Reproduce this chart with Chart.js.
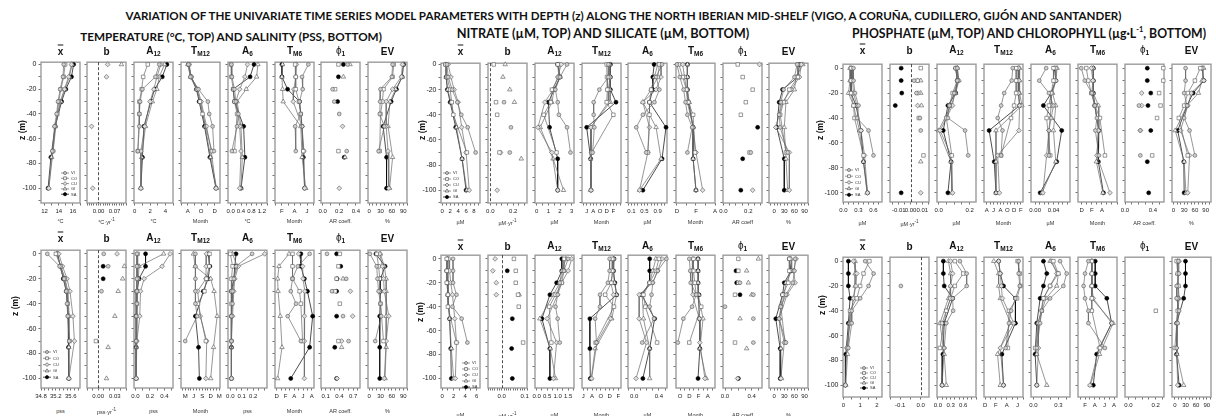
<!DOCTYPE html>
<html>
<head>
<meta charset="utf-8">
<script src="https://cdn.jsdelivr.net/npm/chart.js@4.4.1/dist/chart.umd.min.js"></script>
<style>
body { margin: 0; width: 1216px; height: 416px; overflow: hidden; background: #fff; position: relative; font-family: "Liberation Sans", Arial, sans-serif; color: #111; }
.t { position: absolute; white-space: nowrap; transform: translate(-50%, -50%); }
.ttl { font-family: Lato, "Open Sans", sans-serif; font-weight: bold; font-size: 12px; }
.hd { font-weight: bold; font-size: 10px; }
.hd sub { font-size: 6.5px; vertical-align: -2px; }
.hd .ov { text-decoration: overline; }
.hd .phi { font-weight: normal; }
.unit { font-size: 5.5px; color: #333; }
.zl { font-weight: bold; font-size: 8.5px; transform: translate(-50%, -50%) rotate(-90deg); }
canvas { position: absolute; }
</style>
</head>
<body>
<script>
// stations and sampled depths (m)
const stations = ['VI', 'CO', 'CU', 'GI', 'SA'];
const depths = {
  VI: [0, -10, -20, -30, -40, -50, -70],
  CO: [0, -10, -20, -30, -40, -70],
  CU: [0, -10, -20, -30, -50, -70, -100],
  GI: [0, -10, -20, -30, -50, -75, -100],
  SA: [0, -10, -20, -30, -50, -75, -100]
};

// ---- temperature (top left)
const tempMean = { VI: [14.7, 14.6, 14.2, 13.9, 13.7, 13.4, 13.1], CO: [14.9, 14.7, 14.3, 14.0, 13.8, 13.2], CU: [15.8, 15.4, 14.8, 14.2, 13.5, 13.2, 12.6], GI: [15.9, 15.5, 14.9, 14.3, 13.5, 13.0, 12.6], SA: [16.1, 15.8, 15.0, 14.4, 13.5, 12.9, 12.5] };
const tempB = { CU: [0.04, 0.035, null, null, -0.03, null, -0.025], GI: [0.10] };
const tempA12 = { VI: [3.2, 2.7, 1.0, 0.7, 0.6, 0.6, 0.4], CO: [1.7, 1.1, 0.9, 0.6, 0.6, 0.4], CU: [3.4, 2.9, 2.5, 2.0, 1.3, 0.8, 0.8], GI: [3.9, 3.2, 2.9, 2.3, 1.4, 0.9, 0.8], SA: [4.2, 3.6, 2.6, 2.1, 1.2, 1.0, 0.8] };
const tempTM12 = { VI: [8.1, 8.4, 9.6, 11.0, 11.2, 11.7, 11.9], CO: [8.2, 8.5, 9.4, 9.8, 10.2, 11.6], CU: [8.2, 8.5, 9.5, 10.0, 10.8, 11.5, 12.2], GI: [8.0, 8.4, 9.3, 9.9, 10.6, 11.4, 12.3], SA: [8.1, 8.5, 9.3, 9.7, 10.5, 11.3, 12.2] };
const tempA6 = { VI: [0.03, 0.05, 0.15, 0.2, 0.3, 0.25, 0.05], CO: [0.02, 0.03, 0.1, 0.15, 0.25, 0.15], CU: [0.65, 0.55, 0.35, 0.2, 0.35, 0.4, 0.35], GI: [1.05, 1.0, 0.6, 0.25, 0.4, 0.45, 0.4], SA: [0.9, 0.75, 0.1, 0.15, 0.5, 0.55, 0.4] };
const tempTM6 = { VI: [6.2, 5.2, 5.3, 4.8, 5.0, 4.1, 4.2], CO: [4.1, 4.2, 4.2, 4.7, 5.0, 5.4], CU: [4.3, 4.2, 3.9, 3.8, 5.2, 5.5, 5.6], GI: [2.1, 2.0, 2.1, 2.2, 5.0, 5.2, 5.8], SA: [2.0, 2.0, 2.9, 4.8, 5.2, 5.4, 5.6] };
const tempPhi = { VI: [0.3, null, 0.12, 0.14, 0.2, null, 0.29], CO: [0.19, null, 0.15, null, null, 0.19], CU: [null, null, null, null, 0.24, null, 0.2], GI: [0.33, 0.25, null, null, null, 0.27, null], SA: [0.25, 0.19, null, 0.18, null, 0.26, null] };
const tempEV = { VI: [62, 60, 30, 29, 28, 40, 25], CO: [65, 62, 38, 35, 30, 28], CU: [88, 85, 62, 45, 45, 50, 52], GI: [90, 88, 70, 55, 50, 62, 54], SA: [91, 87, 72, 58, 37, 46, 46] };

// ---- salinity (bottom left)
const salMean = { VI: [34.97, 35.3, 35.42, 35.48, 35.5, 35.52, 35.56], CO: [35.2, 35.33, 35.44, 35.5, 35.52, 35.57], CU: [35.28, 35.38, 35.5, 35.58, 35.66, 35.7, 35.55], GI: [35.22, 35.33, 35.45, 35.52, 35.56, 35.55, 35.55], SA: [35.25, 35.32, 35.4, 35.48, 35.53, 35.54, 35.55] };
const salB = { VI: [0.01, 0.018, null, 0.006], CO: [null, null, null, null, null, -0.004], CU: [0.034], GI: [null, 0.047, 0.044, 0.036, 0.03, 0.018, 0.015], SA: [null, 0.009, 0.009] };
const salA12 = { VI: [0.02, 0.02, 0.02, 0.02, 0.02, 0.01, 0.01], CO: [0.03, 0.03, 0.03, 0.02, 0.02, 0.01], CU: [0.48, 0.37, 0.12, 0.07, 0.06, 0.02, 0.01], GI: [0.39, 0.05, 0.04, 0.03, 0.02, 0.01, 0.01], SA: [0.14, 0.14, 0.05, 0.02, 0.01, 0.01, 0.01] };
const salTM12 = { VI: [6.6, 6.6, 6.6, 6.6, 6.6, 7.2, 3.0], CO: [11.6, 11.5, 10.5, 9.8, 7.5, 10.3], CU: [10.5, 10.4, 10.3, 7.4, 8.3, 10.6, 10.3], GI: [5.9, 6.5, 12.0, 13.2, 14.3, 13.0, 12.0], SA: [11.1, 11.7, 11.1, 9.4, 6.6, 7.7, 8.0] };
const salA6 = { VI: [0.19, 0.05, 0.03, 0.02, 0.02, 0.01, 0.01], CO: [0.0, 0.02, 0.01, 0.01, 0.01, 0.01], CU: [0.3, 0.07, 0.04, 0.03, 0.02, 0.01, 0.01], GI: [0.02, 0.06, 0.03, 0.02, 0.01, 0.01, 0.01], SA: [0.05, 0.04, 0.03, 0.01, 0.01, 0.01, 0.01] };
const salTM6 = { VI: [7.5, 4.8, 3.6, 3.2, 4.4, 2.5, 5.5], CO: [3.6, 3.6, 3.6, 5.2, 5.5, 5.9], CU: [5.0, 5.9, 6.0, 6.4, 6.3, 6.3, 6.3], GI: [2.8, 0.5, 0.2, 0.3, 0.8, 1.2, 0.2], SA: [5.5, 5.5, 6.3, 7.0, 8.2, 7.5, 3.2] };
const salPhi = { VI: [0.13, null, 0.55, 0.24, null, 0.48, 0.6], CO: [0.41, 0.38, 0.34, 0.31, 0.41, 0.38], CU: [null, null, null, 0.64, 0.69, 0.45, 0.35], GI: [null, null, 0.48, null, null, 0.45, null], SA: [0.34, 0.43, 0.35, 0.34, 0.34, 0.3, 0.34] };
const salEV = { VI: [2, 20, 22, 25, 30, 32, 16], CO: [20, 25, 28, 28, 30, 38], CU: [28, 35, 38, 40, 52, 45, 40], GI: [30, 40, 45, 45, 45, 45, 42], SA: [18, 42, 30, 30, 28, 28, 28] };

// ---- nitrate (top middle)
const nitMean = { VI: [1.2, 1.5, 2.5, 3.8, 4.8, 6.4, 8.4], CO: [0.8, 1.2, 2.0, 2.4, 2.8, 6.2], CU: [1.5, 2.2, 3.0, 4.0, 4.9, 6.0, 6.8], GI: [1.0, 1.0, 1.4, 2.2, 3.6, 5.0, 6.2], SA: [0.9, 1.0, 1.3, 2.0, 3.4, 5.0, 6.0] };
const nitB = { VI: [null, null, null, 0.12, null, 0.18, 0.17], CO: [0.03, null, null, 0.05, 0.06, 0.08], CU: [null, null, null, null, null, 0.09, 0.06], GI: [0.13, 0.11, 0.17, 0.21, null, 0.27, null] };
const nitA12 = { VI: [2.6, 2.0, 1.6, 1.8, 1.9, 2.6, 2.9], CO: [1.8, 1.9, 1.3, 1.2, 0.6, 1.7], CU: [2.1, 1.8, 1.4, 0.7, 0.1, 1.3, 1.8], GI: [1.9, 2.0, 1.5, 1.3, 0.3, 1.4, 2.3], SA: [1.8, 2.0, 1.5, 1.0, 1.1, 1.8, 1.8] };
const nitTM12 = { VI: [12.5, 12.5, 9.8, 8.1, 8.1, 8.3, 7.8], CO: [12.0, 12.1, 12.2, 12.0, 14.0, 7.5], CU: [12.7, 13.0, 12.5, 12.5, 7.3, 7.5, 7.3], GI: [13.0, 13.0, 13.0, 13.1, 7.2, 7.2, 7.2], SA: [13.1, 13.1, 13.1, 14.8, 6.0, 7.2, 7.3] };
const nitA6 = { VI: [1.03, 0.85, 0.95, 0.8, 0.45, 0.25, 0.55], CO: [0.95, 0.9, 0.7, 0.65, 0.65, 0.6], CU: [1.0, 1.0, 0.85, 0.45, 0.65, 0.6, 0.35], GI: [0.9, 0.8, 0.7, 0.45, 0.85, 1.0, 0.35], SA: [0.79, 0.75, 0.75, 0.65, 1.15, 1.03, 0.45] };
const nitTM6 = { VI: [0.0, 0.3, 0.7, 0.9, 1.1, 1.6, 1.1], CO: [0.2, 0.6, 1.0, 1.2, 1.7, 1.9], CU: [0.6, 0.8, 1.0, 1.1, 1.7, 2.0, 2.7], GI: [1.1, 1.1, 1.1, 1.3, 1.7, 1.7, 2.0], SA: [1.1, 1.1, 1.1, 1.2, 1.7, 1.7, 2.0] };
const nitPhi = { VI: [null, null, null, null, null, null, 0.22], CO: [0.115, 0.155, 0.235, 0.18, 0.14, 0.21], CU: [0.29, null, null, null, null, null, 0.235], SA: [null, null, null, null, 0.275, 0.155, 0.14] };
const nitEV = { VI: [68, 60, 28, 20, 15, 18, 40], CO: [70, 70, 45, 28, 18, 35], CU: [80, 75, 50, 25, 5, 45, 45], GI: [85, 65, 60, 35, 30, 35, 40], SA: [75, 70, 25, 15, 8, 30, 30] };

// ---- silicate (bottom middle)
const silMean = { VI: [1.9, 1.9, 1.9, 2.5, 1.8, 3.4, 4.4], CO: [0.8, 0.8, 0.8, 1.0, 1.0, 2.5], CU: [1.2, 1.3, 1.5, 1.8, 2.2, 2.5, 2.3], GI: [1.0, 1.0, 1.0, 1.0, 1.3, 1.6, 2.0], SA: [0.9, 0.8, 0.9, 1.0, 1.3, 1.5, 1.6] };
const silB = { CO: [0.053, 0.061, 0.061, 0.071, 0.074, 0.093], CU: [-0.029, -0.039, -0.024, -0.024], GI: [null, null, null, 0.076], SA: [null, 0.024, null, null, 0.046, 0.043, 0.046] };
const silA12 = { VI: [1.5, 1.3, 1.1, 1.0, 0.9, 1.0, 1.1], CO: [1.3, 1.3, 1.2, 0.9, 0.6, 0.7], CU: [1.67, 1.5, 1.2, 1.0, 0.5, 0.95, 0.8], GI: [1.4, 1.2, 1.1, 0.8, 0.15, 0.65, 0.9], SA: [1.2, 1.2, 0.95, 0.63, 0.25, 0.63, 0.63] };
const silTM12 = { VI: [12.0, 12.0, 11.6, 9.8, 9.8, 8.7, 9.0], CO: [12.6, 12.6, 12.4, 11.0, 13.0, 8.8], CU: [12.9, 12.8, 12.3, 12.9, 12.2, 9.1, 7.9], GI: [12.9, 12.8, 13.1, 13.6, 12.5, 8.7, 7.8], SA: [13.0, 12.9, 13.2, 13.6, 7.5, 7.5, 7.6] };
const silA6 = { VI: [0.52, 0.38, 0.3, 0.28, 0.25, 0.32, 0.13], CO: [0.4, 0.35, 0.25, 0.15, 0.18, 0.37], CU: [0.45, 0.38, 0.3, 0.08, 0.08, 0.2, 0.03], GI: [0.35, 0.3, 0.25, 0.13, 0.15, 0.25, 0.25], SA: [0.25, 0.25, 0.25, 0.12, 0.33, 0.25, 0.14] };
const silTM6 = { VI: [0.0, 0.2, 0.3, 1.5, 0.6, -1.3, -2.5], CO: [0.9, 0.9, 1.2, 1.5, 2.6, 0.0], CU: [0.8, 0.6, 0.6, 0.8, 2.2, 2.3, 3.4], GI: [1.9, 1.9, 1.9, 2.1, 3.0, 2.3, 3.7], SA: [1.9, 1.9, 1.9, 2.1, 2.2, 2.3, 1.9] };
const silPhi = { VI: [null, null, 0.225, 0.425, 0.0, 0.425, 0.425], CO: [0.2, 0.2, 0.2, 0.15, null, 0.15], CU: [null, null, null, null, null, null, 0.19], GI: [0.5, 0.325, 0.35, 0.4, 0.225, 0.325, null], SA: [null, 0.165, 0.175, 0.225, null, null, 0.2] };
const silEV = { VI: [62, 60, 55, 35, 20, 15, 35], CO: [45, 45, 42, 25, 20, 32], CU: [65, 58, 62, 38, 15, 30, 20], GI: [50, 52, 35, 30, 15, 20, 22], SA: [45, 50, 30, 25, 5, 18, 18] };

// ---- phosphate (top right)
const phoMean = { VI: [0.2, 0.2, 0.23, 0.3, 0.27, 0.5, 0.6], CO: [0.15, 0.15, 0.15, 0.2, 0.22, 0.4], CU: [0.17, 0.18, 0.2, 0.27, 0.35, 0.42, 0.48], GI: [0.13, 0.13, 0.1, 0.2, 0.32, 0.4, 0.47], SA: [0.15, 0.15, 0.15, 0.25, 0.35, 0.4, 0.48] };
const phoB = { VI: [null, 0.003, 0.005, null, 0.008, 0.0087], CO: [0.0087, 0.006, null, null, 0.007, 0.011], CU: [null, 0.006, 0.0065, 0.006, null, null, 0.0087], GI: [null, 0.0087, 0.0087, 0.0093, null, 0.0087], SA: [-0.008, -0.008, -0.0075, -0.013, null, null, -0.008] };
const phoA12 = { VI: [0.12, 0.12, 0.1, 0.07, 0.06, 0.17, 0.19], CO: [0.11, 0.12, 0.09, 0.07, 0.05, 0.085], CU: [0.12, 0.13, 0.1, 0.09, 0.01, 0.08, 0.09], GI: [0.12, 0.13, 0.11, 0.08, 0.0, 0.08, 0.085], SA: [0.11, 0.12, 0.11, 0.06, 0.03, 0.08, 0.06] };
const phoTM12 = { VI: [11.6, 11.3, 9.1, 8.2, 7.2, 8.6, 8.2], CO: [12.6, 12.6, 12.6, 12.0, 11.1, 8.2], CU: [13.3, 13.4, 13.3, 13.6, 13.4, 7.2, 7.7], GI: [13.6, 13.6, 13.6, 14.3, 6.7, 6.7, 6.7], SA: [13.2, 13.2, 13.3, 13.6, 4.7, 6.2, 6.7] };
const phoA6 = { VI: [0.024, 0.009, 0.03, 0.04, 0.035, 0.03, 0.03], CO: [0.04, 0.04, 0.035, 0.03, 0.025, 0.033], CU: [0.045, 0.045, 0.035, 0.035, 0.03, 0.025, 0.017], GI: [0.048, 0.045, 0.038, 0.045, 0.04, 0.045, 0.015], SA: [0.042, 0.045, 0.035, 0.018, 0.058, 0.047, 0.011] };
const phoTM6 = { VI: [-0.1, 0.6, 2.0, 2.6, 3.0, 2.7, 3.4], CO: [0.9, 1.3, 1.9, 2.6, 3.6, 4.6], CU: [1.9, 2.2, 2.0, 2.6, 3.3, 3.0, 5.6], GI: [2.3, 2.3, 2.3, 3.3, 3.4, 2.9, 4.2], SA: [2.3, 2.3, 2.3, 2.6, 3.4, 3.3, 4.3] };
const phoPhi = { VI: [null, null, null, 0.2, null, 0.22, 0.22], CO: [0.55, 0.55, 0.49, 0.51, 0.46, 0.39], CU: [null, null, 0.24, 0.24, 0.22], SA: [0.32, 0.32, 0.37, 0.33, 0.37, 0.32, 0.34] };
const phoEV = { VI: [34, 34, 30, 38, 30, 45, 60], CO: [75, 60, 40, 30, 15, 40], CU: [80, 85, 50, 40, 20, 45, 40], GI: [85, 80, 70, 38, 5, 30, 35], SA: [80, 85, 55, 38, 12, 29, 30] };

// ---- chlorophyll (bottom right)
const chlMean = { VI: [1.3, 1.8, 1.5, 1.0, 0.5, 0.5, 0.3], CO: [1.55, 1.2, 1.0, 0.8, 0.4, 0.25], CU: [0.6, 0.8, 0.75, 0.6, 0.4, 0.2, 0.12], GI: [0.7, 0.7, 0.7, 0.6, 0.35, 0.25, 0.15], SA: [0.3, 0.3, 0.3, 0.4, 0.3, 0.15, 0.12] };
const chlB = { VI: [null, null, -0.097] };
const chlA12 = { VI: [0.52, 0.68, 0.68, 0.35, 0.36, 0.2, 0.15], CO: [0.4, 0.6, 0.4, 0.3, 0.2, 0.05], CU: [0.3, 0.35, 0.3, 0.3, 0.1, 0.15, 0.1], GI: [0.25, 0.3, 0.3, 0.25, 0.05, 0.15, 0.2], SA: [0.13, 0.13, 0.15, 0.35, 0.15, 0.12, 0.1] };
const chlTM12 = { VI: [6.2, 6.2, 6.4, 5.6, 4.8, 4.4, 3.8], CO: [6.0, 6.4, 6.5, 5.9, 4.4, 4.2], CU: [2.5, 2.8, 3.0, 3.2, 5.3, 2.8, 3.4], GI: [1.6, 2.5, 2.5, 2.8, 4.7, 2.3, 2.8], SA: [2.5, 2.8, 3.4, 5.6, 5.6, 3.1, 3.4] };
const chlA6 = { VI: [0.32, 0.4, 0.36, 0.2, 0.1, 0.08, 0.04], CO: [0.24, 0.3, 0.2, 0.12, 0.1, 0.02], CU: [0.22, 0.28, 0.2, 0.12, 0.06, 0.06, 0.04], GI: [0.2, 0.3, 0.28, 0.15, 0.05, 0.04, 0.16], SA: [0.12, 0.16, 0.12, 0.08, 0.04, 0.02, 0.04] };
const chlTM6 = { VI: [2.7, 2.0, 1.7, 2.0, 2.7, 2.7, 6.1], CO: [3.4, 3.4, 3.4, 3.4, 3.4, 5.1], CU: [3.4, 3.4, 3.4, 3.7, 7.5, 4.9, 3.0], GI: [3.4, 3.4, 3.4, 3.4, 7.8, 5.0, 3.1], SA: [4.1, 4.1, 4.1, 6.5, 7.5, 4.4, 3.7] };
const chlPhi = { CO: [null, null, null, null, 0.2] };
const chlEV = { VI: [10, 12, 5, 5, 12, 8, 5], CO: [5, 8, 10, 8, 8, 0], CU: [12, 10, 8, 10, 5, 5, 8], GI: [8, 8, 10, 12, 6, 6, 25], SA: [30, 30, 30, 25, 5, 5, 12] };

// x tick labels (major values) per panel, same order as the headers
const tempTicks = [[12, 14, 16], [0, 0.07], [0, 2, 4], [8, 10, 12], [0, 0.4, 0.8, 1.2], [2, 4, 6], [0, 0.2, 0.4], [0, 30, 60, 90]];
const salTicks = [[34.8, 35.2, 35.6], [0, 0.03], [0, 0.2, 0.4], [3, 6, 9, 12, 15], [0, 0.1, 0.2], [0, 2, 4, 6, 8], [0.1, 0.4, 0.7], [0, 30, 60, 90]];
const nitTicks = [[0, 2, 4, 6, 8], [0, 0.2], [0, 1, 2, 3], [6, 8, 10, 12, 14], [0.1, 0.5, 0.9], [0, 2, 4], [0, 0.2], [0, 30, 60, 90]];
const silTicks = [[0, 2, 4, 6], [0, 0.1], [0, 0.5, 1, 1.5], [6, 8, 10, 12, 14], [0, 0.4], [-2, 0, 2, 4], [0, 0.4], [0, 30, 60, 90]];
const phoTicks = [[0, 0.3, 0.6], [-0.01, 0, 0.01], [0, 0.2], [4, 6, 8, 10, 12, 14], [0, 0.04], [0, 2, 4], [0, 0.4], [0, 30, 60, 90]];
const chlTicks = [[0, 1, 2], [-0.1, 0], [0, 0.3, 0.6], [0, 2, 4, 6], [0, 0.3], [2, 4, 6, 8], [0, 0.2], [0, 30, 60, 90]];

const heads = ['<span class="ov">x</span>', 'b', 'A<sub>12</sub>', 'T<sub>M12</sub>', 'A<sub>6</sub>', 'T<sub>M6</sub>', '<span class="phi">ϕ</span><sub>1</sub>', 'EV'];
const MONTHS = 'JFMAMJJASOND';

// axis ranges: [min, max, minor step, decimals | 'm']
const panels = [
  { lefts: [41, 87, 134, 181, 228, 275, 321, 368], top: 60, bot: 203, y0: 62.3, y100: 188, headY: 50.5, unitY: 221,
    vars: [tempMean, tempB, tempA12, tempTM12, tempA6, tempTM6, tempPhi, tempEV], ticks: tempTicks,
    ax: [[11.5, 17, 1, 0], [-0.05, 0.12, 0.01, 2], [-0.1, 5, 1, 0], [7, 12.8, 1, 'm'], [-0.1, 1.4, 0.2, 1], [0.9, 7.1, 1, 'm'], [-0.02, 0.45, 0.1, 1], [-3, 100, 10, 0]],
    units: ['°C', '°C·yr<sup>-1</sup>', '°C', 'Month', '°C', 'Month', 'AR coeff.', '%'], zl: [22, 130], leg: [20, 173, 5.3] },
  { lefts: [41, 87, 134, 181, 228, 275, 321, 368], top: 248, bot: 388, y0: 251.7, y100: 378.3, headY: 237.5, unitY: 411,
    vars: [salMean, salB, salA12, salTM12, salA6, salTM6, salPhi, salEV], ticks: salTicks,
    ax: [[34.8, 35.85, 0.1, 1], [-0.02, 0.05, 0.01, 2], [-0.02, 0.52, 0.1, 1], [1.5, 15.3, 1, 'm'], [-0.02, 0.32, 0.05, 1], [-0.4, 8.5, 1, 'm'], [0, 0.85, 0.1, 1], [-3, 100, 10, 0]],
    units: ['pss', 'pss·yr<sup>-1</sup>', 'pss', 'Month', 'pss', 'Month', 'AR coeff.', '%'], zl: [15, 306], leg: [2, 352, 6.3] },
  { lefts: [441, 488, 535, 582, 628, 676, 723, 769], top: 61, bot: 203, y0: 62.3, y100: 190, headY: 50.5, unitY: 222,
    vars: [nitMean, nitB, nitA12, nitTM12, nitA6, nitTM6, nitPhi, nitEV], ticks: nitTicks,
    ax: [[-0.3, 9.5, 1, 0], [-0.02, 0.32, 0.05, 1], [-0.15, 3.2, 0.5, 0], [4.6, 16.3, 1, 'm'], [0, 1.18, 0.1, 1], [-0.1, 4.0, 1, 'm'], [-0.003, 0.31, 0.05, 1], [-15, 100, 10, 0]],
    units: ['µM', 'µM·yr<sup>-1</sup>', 'µM', 'Month', 'µM', 'Month', 'AR coeff', '%'], zl: [422, 130], leg: [2, 173, 6] },
  { lefts: [441, 488, 535, 582, 628, 676, 723, 769], top: 253, bot: 388, y0: 256.7, y100: 378.3, headY: 245.7, unitY: 415,
    vars: [silMean, silB, silA12, silTM12, silA6, silTM6, silPhi, silEV], ticks: silTicks,
    ax: [[-0.2, 6.6, 1, 0], [-0.06, 0.11, 0.01, 1], [-0.08, 1.78, 0.25, 1], [5.7, 14.6, 1, 'm'], [-0.1, 0.53, 0.1, 1], [-2.9, 5.6, 1, 'm'], [-0.03, 0.555, 0.1, 1], [-15, 100, 10, 0]],
    units: ['µM', 'µM·yr<sup>-1</sup>', 'µM', 'Month', 'µM', 'Month', 'AR coeff', '%'], zl: [420, 312], leg: [21, 363, 6] },
  { lefts: [843, 890, 937, 984, 1031, 1078, 1125, 1172], top: 62, bot: 202, y0: 66, y100: 192.7, headY: 50, unitY: 223,
    vars: [phoMean, phoB, phoA12, phoTM12, phoA6, phoTM6, phoPhi, phoEV], ticks: phoTicks,
    ax: [[-0.01, 0.77, 0.1, 1], [-0.0175, 0.0157, 0.005, 2], [-0.01, 0.24, 0.05, 1], [3.2, 14.6, 1, 'm'], [-0.009, 0.076, 0.01, 2], [-0.75, 7.0, 1, 'm'], [0, 0.56, 0.1, 1], [-4, 105, 10, 0]],
    units: ['µM', 'µM·yr<sup>-1</sup>', 'µM', 'Month', 'µM', 'Month', 'AR coeff.', '%'], zl: [820, 130], leg: [2, 170, 6.2] },
  { lefts: [843, 890, 937, 984, 1031, 1078, 1125, 1172], top: 255, bot: 397, y0: 259, y100: 385, headY: 245.7, unitY: 422,
    vars: [chlMean, chlB, chlA12, chlTM12, chlA6, chlTM6, chlPhi, chlEV], ticks: chlTicks,
    ax: [[-0.02, 2.3, 0.5, 0], [-0.15, 0.04, 0.05, 1], [-0.02, 0.9, 0.1, 1], [-0.2, 7, 1, 'm'], [-0.03, 0.44, 0.1, 1], [0.55, 8.6, 1, 'm'], [-0.025, 0.26, 0.05, 1], [-8, 102, 10, 0]],
    units: ['µg·L<sup>-1</sup>', 'µg·L<sup>-1</sup>·yr<sup>-1</sup>', 'µg·L<sup>-1</sup>', 'Month', 'µg·L<sup>-1</sup>', 'Month', 'AR coeff.', '%'], zl: [822, 305], leg: [17, 368, 5] }
];

const look = {
  VI: { shape: 'circle', r: 1.9, fill: '#cfcfcf', edge: '#555', line: '#6a6a6a' },
  CO: { shape: 'rect', r: 2.5, fill: '#ffffff', edge: '#555', line: '#6a6a6a' },
  CU: { shape: 'rectRot', r: 2.4, fill: '#dedede', edge: '#555', line: '#6a6a6a' },
  GI: { shape: 'triangle', r: 2.6, fill: '#f6f6f6', edge: '#555', line: '#6a6a6a' },
  SA: { shape: 'circle', r: 2.0, fill: '#000000', edge: '#000', line: '#000' }
};

function addText(cls, html, x, y, fitW) {
  const d = document.createElement('div');
  d.className = 't ' + cls;
  d.innerHTML = html;
  d.style.left = x + 'px';
  d.style.top = y + 'px';
  document.body.appendChild(d);
  if (fitW) {
    const fs = parseFloat(getComputedStyle(d).fontSize);
    d.style.fontSize = (fs * fitW / d.offsetWidth) + 'px';
  }
  return d;
}

addText('ttl', 'VARIATION OF THE UNIVARIATE TIME SERIES MODEL PARAMETERS WITH DEPTH (z) ALONG THE NORTH IBERIAN MID-SHELF (VIGO, A CORUÑA, CUDILLERO, GIJÓN AND SANTANDER)', 623.5, 14.5, 997);
addText('ttl', 'TEMPERATURE (°C, TOP) AND SALINITY (PSS, BOTTOM)', 231, 36, 302);
addText('ttl', 'NITRATE (µM, TOP) AND SILICATE (µM, BOTTOM)', 603, 33, 293);
addText('ttl', 'PHOSPHATE (µM, TOP) AND CHLOROPHYLL (µg·L<sup style="font-size:0.6em">-1</sup>, BOTTOM)', 1029, 32.5, 355);

// frame, zero line and in-plot legend
const framePlugin = {
  id: 'frame',
  beforeDatasetsDraw(chart, args, o) {
    const { left, top, right, bottom } = chart.chartArea;
    const ctx = chart.ctx;
    ctx.save();
    ctx.strokeStyle = '#9c9c9c';
    ctx.lineWidth = 1.4;
    ctx.strokeRect(left, top, right - left, bottom - top);
    if (o.zero) {
      const x = Math.round(chart.scales.x.getPixelForValue(0)) + 0.5;
      ctx.strokeStyle = '#222';
      ctx.lineWidth = 0.8;
      ctx.setLineDash([3, 2]);
      ctx.beginPath();
      ctx.moveTo(x, top);
      ctx.lineTo(x, bottom);
      ctx.stroke();
    }
    ctx.restore();
  },
  afterDatasetsDraw(chart, args, o) {
    if (!o.legend) return;
    const ctx = chart.ctx;
    const [lx, ly, gap] = o.legend;
    ctx.save();
    stations.forEach((st, i) => {
      const s = look[st];
      const x = lx, y = ly + i * gap;
      ctx.strokeStyle = s.line;
      ctx.lineWidth = 0.7;
      ctx.beginPath();
      ctx.moveTo(x, y);
      ctx.lineTo(x + 8, y);
      ctx.stroke();
      ctx.fillStyle = s.fill;
      ctx.strokeStyle = s.edge;
      Chart.helpers.drawPoint(ctx, { pointStyle: s.shape, rotation: 0, radius: s.r * 0.8, borderWidth: 0.6 }, x + 4, y);
      ctx.fillStyle = '#333';
      ctx.font = '4px "Liberation Sans", Arial';
      ctx.textBaseline = 'middle';
      ctx.fillText(st, x + 10, y + 0.3);
    });
    ctx.restore();
  }
};

function fmtTick(v, dec) {
  if (dec === 'm') return MONTHS[(((Math.round(v) - 1) % 12) + 12) % 12];
  return v.toFixed(dec);
}

const padL = 30, padR = 14, padT = 4, padB = 16;

panels.forEach((p, pi) => {
  const ppu = (p.y100 - p.y0) / 100;
  const yMax = (p.y0 - p.top) / ppu;
  const yMin = -(p.bot - p.y0) / ppu;
  const yVals = [];
  for (let z = 0; z >= yMin; z -= 10) yVals.push(z);
  const boxH = p.bot - p.top;

  p.vars.forEach((vals, k) => {
    const [xMin, xMax, step, dec] = p.ax[k];
    const majors = p.ticks[k];
    const xVals = [];
    for (let v = Math.ceil(xMin / step - 1e-9) * step; v <= xMax + 1e-9; v += step) xVals.push(+v.toFixed(6));
    majors.forEach(m => { if (!xVals.some(v => Math.abs(v - m) < 1e-9)) xVals.push(m); });
    xVals.sort((a, b) => a - b);

    const boxW = 39;
    const cv = document.createElement('canvas');
    cv.width = boxW + padL + padR;
    cv.height = Math.round(boxH) + padT + padB;
    cv.style.left = (p.lefts[k] - padL) + 'px';
    cv.style.top = (Math.round(p.top) - padT) + 'px';
    document.body.appendChild(cv);

    const lines = !(k === 1 || k === 6);
    const datasets = stations.map(st => {
      const s = look[st];
      const v = vals[st] || [];
      const pts = depths[st].map((z, i) => ({ x: v[i], y: z })).filter(d => d.x !== undefined && d.x !== null);
      return {
        label: st, data: pts, showLine: lines,
        borderColor: s.line, borderWidth: 0.7,
        pointStyle: s.shape, pointRadius: s.r, pointBackgroundColor: s.fill,
        pointBorderColor: s.edge, pointBorderWidth: 0.6, clip: false
      };
    });

    new Chart(cv, {
      type: 'scatter',
      data: { datasets },
      options: {
        responsive: false, animation: false, events: [],
        layout: { padding: { left: 0, right: padR, top: padT, bottom: 0 } },
        plugins: {
          legend: { display: false }, tooltip: { enabled: false },
          frame: { zero: k === 1, legend: k === 0 ? [padL + p.leg[0], padT + (p.leg[1] - p.top), p.leg[2]] : null }
        },
        scales: {
          x: {
            type: 'linear', min: xMin, max: xMax,
            afterFit: s => { s.height = padB; },
            afterBuildTicks: s => { s.ticks = xVals.map(v => ({ value: v })); },
            grid: { drawOnChartArea: false, drawTicks: true, tickLength: 2.5, tickColor: '#333', tickWidth: 0.7 },
            border: { display: false },
            ticks: {
              autoSkip: false, maxRotation: 0, minRotation: 0, padding: 2, color: '#222',
              font: { family: '"Liberation Sans", Arial', size: 6 },
              callback: v => majors.some(m => Math.abs(m - v) < 1e-9) ? fmtTick(v, dec) : ''
            }
          },
          y: {
            type: 'linear', min: yMin, max: yMax,
            afterFit: s => { s.width = padL; },
            afterBuildTicks: s => { s.ticks = yVals.map(v => ({ value: v })); },
            grid: { drawOnChartArea: false, drawTicks: true, tickLength: 2.5, tickColor: '#333', tickWidth: 0.7 },
            border: { display: false },
            ticks: {
              autoSkip: false, padding: 2, color: '#222',
              font: { family: '"Liberation Sans", Arial', size: 7 },
              callback: v => (k === 0 && v % 20 === 0) ? String(v) : ''
            }
          }
        }
      },
      plugins: [framePlugin]
    });

    addText('hd', heads[k], p.lefts[k] + boxW / 2, p.headY);
    addText('unit', p.units[k], p.lefts[k] + boxW / 2, p.unitY);
  });

  addText('zl', 'z (m)', p.zl[0], p.zl[1]);
});
</script>
</body>
</html>
